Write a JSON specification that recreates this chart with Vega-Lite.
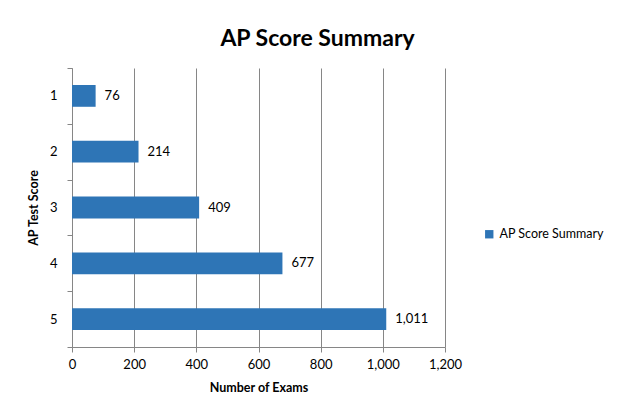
{
  "$schema": "https://vega.github.io/schema/vega-lite/v6.json",
  "width": 373,
  "height": 279,
  "autosize": {"type": "none"},
  "padding": {"left": 72, "top": 68, "right": 175, "bottom": 61},
  "background": "white",
  "title": {
    "text": "AP Score Summary",
    "font": "Lato",
    "fontSize": 23,
    "fontWeight": "bold",
    "color": "#000000",
    "anchor": "middle",
    "frame": "group",
    "dx": 59,
    "dy": 29,
    "baseline": "alphabetic",
    "offset": 22
  },
  "data": {
    "values": [
      {"score": "1", "n": 76, "series": "AP Score Summary"},
      {"score": "2", "n": 214, "series": "AP Score Summary"},
      {"score": "3", "n": 409, "series": "AP Score Summary"},
      {"score": "4", "n": 677, "series": "AP Score Summary"},
      {"score": "5", "n": 1011, "series": "AP Score Summary"}
    ]
  },
  "encoding": {
    "y": {
      "field": "score",
      "type": "ordinal",
      "sort": ["1", "2", "3", "4", "5"],
      "scale": {"paddingInner": 0, "paddingOuter": 0},
      "axis": {
        "title": "AP Test Score",
        "titleFont": "Lato",
        "titleFontSize": 12.5,
        "titleFontWeight": "bold",
        "titleColor": "#000000",
        "titlePadding": 9,
        "labelFont": "Lato",
        "labelFontSize": 13,
        "labelColor": "#000000",
        "labelPadding": 10,
        "tickBand": "extent",
        "tickSize": 5,
        "tickColor": "#868686",
        "domainColor": "#868686",
        "grid": false
      }
    },
    "x": {
      "field": "n",
      "type": "quantitative",
      "scale": {"domain": [0, 1200], "nice": false},
      "axis": {
        "title": "Number of Exams",
        "titleFont": "Lato",
        "titleFontSize": 12.5,
        "titleFontWeight": "bold",
        "titleColor": "#000000",
        "titlePadding": 10,
        "values": [0, 200, 400, 600, 800, 1000, 1200],
        "format": ",.0f",
        "labelFont": "Lato",
        "labelFontSize": 13,
        "labelColor": "#000000",
        "labelPadding": 6,
        "tickSize": 5,
        "tickColor": "#868686",
        "domainColor": "#868686",
        "grid": true,
        "gridColor": "#868686",
        "labelFlush": false
      }
    }
  },
  "layer": [
    {
      "mark": {"type": "bar", "height": {"band": 0.39}},
      "encoding": {
        "color": {
          "field": "series",
          "type": "nominal",
          "scale": {"range": ["#2E75B6"]},
          "legend": {
            "title": null,
            "orient": "none",
            "legendX": 411,
            "legendY": 160,
            "symbolType": "square",
            "symbolSize": 70,
            "symbolStrokeWidth": 0,
            "labelFont": "Lato",
            "labelFontSize": 12.5,
            "labelColor": "#000000",
            "labelOffset": 4
          }
        }
      }
    },
    {
      "mark": {"type": "text", "align": "left", "baseline": "middle", "dx": 9, "font": "Lato", "fontSize": 13, "color": "#000000"},
      "encoding": {
        "text": {"field": "n", "type": "quantitative", "format": ",.0f"}
      }
    }
  ],
  "config": {"view": {"stroke": null}}
}
